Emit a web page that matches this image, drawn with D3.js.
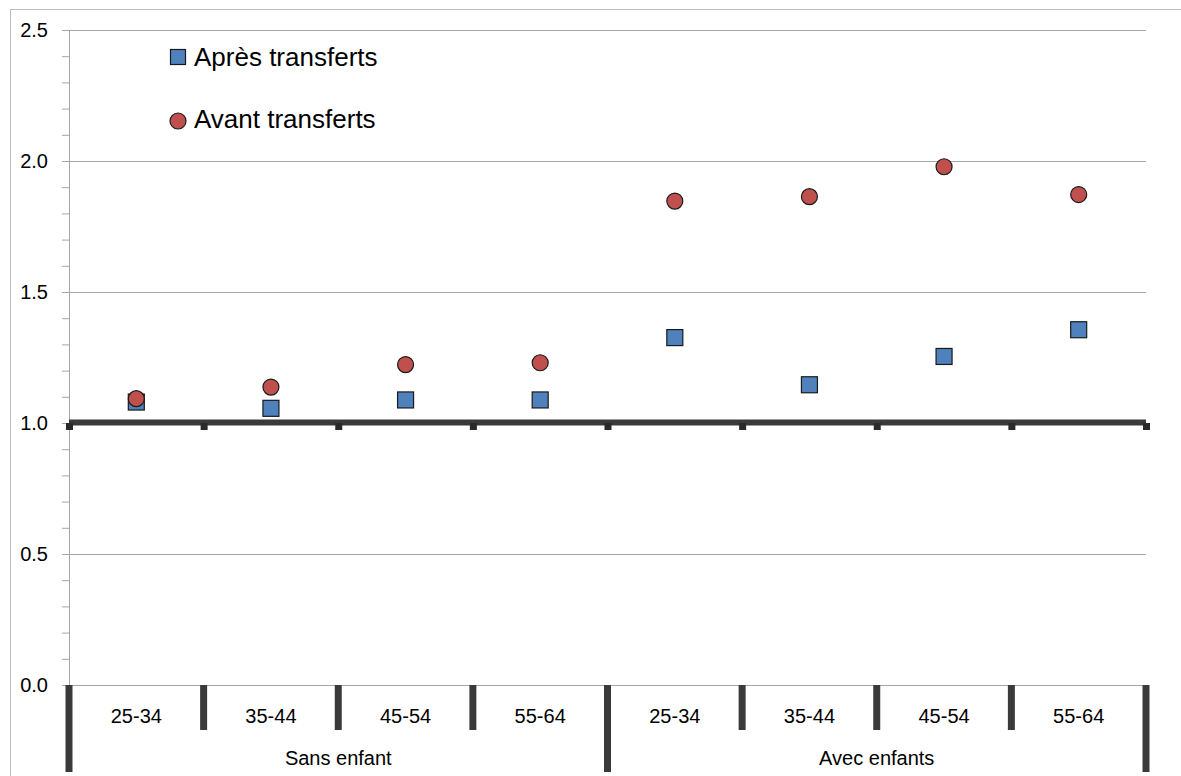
<!DOCTYPE html>
<html>
<head>
<meta charset="utf-8">
<script src="https://cdn.jsdelivr.net/npm/d3@7"></script>
<style>
    body { margin: 0; background: #fff; }
    svg { display: block; font-family: "Liberation Sans", Arial, sans-serif; }
</style>
</head>
<body>
<div id="chart"></div>
<script>
// data
const ageGroups = ["25-34", "35-44", "45-54", "55-64", "25-34", "35-44", "45-54", "55-64"];
const householdGroups = ["Sans enfant", "Avec enfants"];
const apresTransferts = [1.080, 1.056, 1.088, 1.088, 1.326, 1.146, 1.254, 1.356];
const avantTransferts = [1.093, 1.137, 1.223, 1.230, 1.847, 1.864, 1.978, 1.872];
const yTicks = [0, 0.5, 1.0, 1.5, 2.0, 2.5];
const seriesNames = ["Après transferts", "Avant transferts"];

const width = 1181, height = 776;
const margin = { top: 30, right: 35, bottom: 91, left: 69 };
const innerW = width - margin.left - margin.right;
const innerH = height - margin.top - margin.bottom;

const svg = d3.select("#chart").append("svg")
    .attr("width", width)
    .attr("height", height);

// outer frame
svg.append("rect")
    .attr("x", 10.5).attr("y", 9.5)
    .attr("width", width + 20).attr("height", height + 20)
    .attr("fill", "none")
    .attr("stroke", "#bdbdbd");

const g = svg.append("g")
    .attr("transform", `translate(${margin.left},${margin.top})`);

const x = d3.scaleBand()
    .domain(d3.range(ageGroups.length))
    .range([0, innerW])
    .padding(0);

const y = d3.scaleLinear()
    .domain([0, 2.5])
    .range([innerH, 0]);

// gridlines
g.append("g")
    .attr("class", "grid")
    .call(d3.axisLeft(y).tickValues(yTicks).tickSize(-innerW).tickFormat(""))
    .call(s => s.select(".domain").remove())
    .call(s => s.selectAll("line").attr("stroke", "#a6a6a6"));

// minor ticks
g.append("g")
    .call(d3.axisLeft(y).tickValues(d3.range(0, 2.51, 0.1)).tickSize(7).tickFormat(""))
    .call(s => s.select(".domain").attr("stroke", "#a6a6a6"))
    .call(s => s.selectAll("line").attr("stroke", "#a6a6a6"));

// major labels
g.append("g")
    .call(d3.axisLeft(y).tickValues(yTicks).tickSize(7).tickPadding(14).tickFormat(d3.format(".1f")))
    .call(s => s.select(".domain").remove())
    .call(s => s.selectAll("line").attr("stroke", "#a6a6a6"))
    .call(s => s.selectAll("text")
        .attr("font-size", 20)
        .attr("font-family", "Liberation Sans, Arial, sans-serif")
        .attr("fill", "#000"));

// thick reference line at 1.0
const boundaries = d3.range(ageGroups.length).map(i => x(i)).concat([innerW]);

g.append("line")
    .attr("x1", 0).attr("x2", innerW)
    .attr("y1", y(1) - 0.5).attr("y2", y(1) - 0.5)
    .attr("stroke", "#3a3a3a")
    .attr("stroke-width", 6);

g.selectAll(".refTick")
    .data(boundaries)
    .join("rect")
    .attr("class", "refTick")
    .attr("x", d => d - 3)
    .attr("y", y(1))
    .attr("width", 7)
    .attr("height", 7)
    .attr("fill", "#2a2a2a");

// category separators at the bottom
const groupSize = ageGroups.length / householdGroups.length;
g.selectAll(".sep")
    .data(boundaries)
    .join("line")
    .attr("class", "sep")
    .attr("x1", d => d).attr("x2", d => d)
    .attr("y1", innerH)
    .attr("y2", (d, i) => i % groupSize === 0 ? innerH + 87 : innerH + 45)
    .attr("stroke", "#3a3a3a")
    .attr("stroke-width", 7);

g.selectAll(".ageLabel")
    .data(ageGroups)
    .join("text")
    .attr("class", "ageLabel")
    .attr("x", (d, i) => x(i) + x.bandwidth() / 2)
    .attr("y", innerH + 38)
    .attr("text-anchor", "middle")
    .attr("font-size", 20)
    .text(d => d);

g.selectAll(".groupLabel")
    .data(householdGroups)
    .join("text")
    .attr("class", "groupLabel")
    .attr("x", (d, i) => x(i * groupSize) + x.bandwidth() * groupSize / 2)
    .attr("y", innerH + 80)
    .attr("text-anchor", "middle")
    .attr("font-size", 20)
    .text(d => d);

// markers
const cx = i => x(i) + x.bandwidth() / 2;

g.selectAll(".apres")
    .data(apresTransferts)
    .join("rect")
    .attr("class", "apres")
    .attr("x", (d, i) => cx(i) - 8)
    .attr("y", d => y(d) - 8)
    .attr("width", 16)
    .attr("height", 16)
    .attr("fill", "#4f81bd")
    .attr("stroke", "#1a1a1a")
    .attr("stroke-width", 1.2);

g.selectAll(".avant")
    .data(avantTransferts)
    .join("circle")
    .attr("class", "avant")
    .attr("cx", (d, i) => cx(i))
    .attr("cy", d => y(d))
    .attr("r", 8)
    .attr("fill", "#c0504d")
    .attr("stroke", "#1a1a1a")
    .attr("stroke-width", 1.2);

// legend
const legend = svg.append("g").attr("class", "legend");

legend.append("rect")
    .attr("x", 170.5).attr("y", 49.5)
    .attr("width", 15).attr("height", 15)
    .attr("fill", "#4f81bd")
    .attr("stroke", "#1a1a1a")
    .attr("stroke-width", 1.2);

legend.append("circle")
    .attr("cx", 178).attr("cy", 121)
    .attr("r", 8)
    .attr("fill", "#c0504d")
    .attr("stroke", "#1a1a1a")
    .attr("stroke-width", 1.2);

legend.selectAll("text")
    .data(seriesNames)
    .join("text")
    .attr("x", 194)
    .attr("y", (d, i) => 66 + i * 62)
    .attr("font-size", 26)
    .text(d => d);
</script>
</body>
</html>
